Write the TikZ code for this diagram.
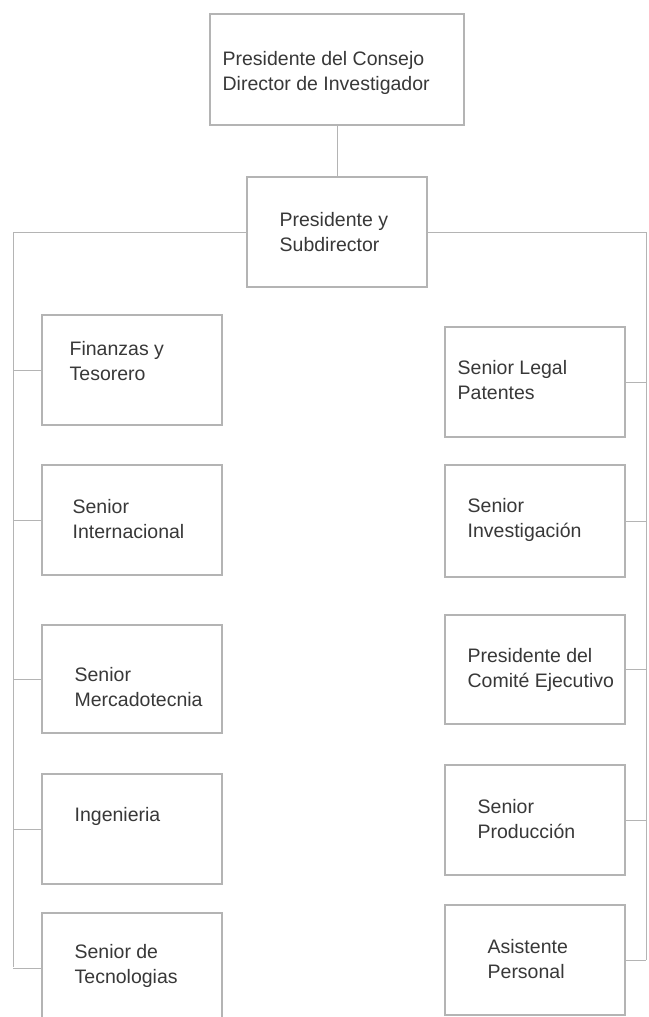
\documentclass[tikz,border=0pt]{standalone}
\usepackage{fontspec}
\setmainfont{Liberation Sans}
\usetikzlibrary{calc}
\definecolor{linegray}{HTML}{B4B4B4}
\definecolor{textgray}{HTML}{383838}
\begin{document}
\begin{tikzpicture}[x=1pt,y=-1pt,
  box/.style={draw=linegray, line width=1.1pt, rectangle, inner sep=0pt,
    minimum width=180pt, minimum height=110pt},
  txt/.style={anchor=west, align=left, inner sep=0pt, text=textgray,
    font=\fontsize{19.5}{25}\selectfont},
  conn/.style={draw=linegray, line width=1pt}]
\useasboundingbox[fill=white] (0,0) rectangle (648,1017);

% boxes
\node[box, minimum width=254pt, minimum height=111pt] (top) at (337,69.5) {};
\node[box] (pres) at (337,232) {};
\node[box] (fin) at (132,370) {};
\node[box] (int) at (132,520) {};
\node[box, minimum height=108pt] (mer) at (132,679) {};
\node[box] (ing) at (132,829) {};
\node[box] (tec) at (132,968) {};
\node[box] (leg) at (535,382) {};
\node[box, minimum height=112pt] (inv) at (535,521) {};
\node[box, minimum height=109pt] (com) at (535,669.5) {};
\node[box] (pro) at (535,820) {};
\node[box] (asi) at (535,960) {};

% texts
\node[txt] (top-t) at ($(top.west)+(13,3)$) {Presidente del Consejo\\Director de Investigador};
\node[txt] (pres-t) at ($(pres.west)+(33,0)$) {Presidente y\\Subdirector};
\node[txt] (fin-t) at ($(fin.west)+(28,-9)$) {Finanzas y\\Tesorero};
\node[txt] (int-t) at ($(int.west)+(31,-1)$) {Senior\\Internacional};
\node[txt] (mer-t) at ($(mer.west)+(33,8)$) {Senior\\Mercadotecnia};
\node[txt] (ing-t) at ($(ing.west)+(33,-13)$) {Ingenieria};
\node[txt] (tec-t) at ($(tec.west)+(33,-2)$) {Senior de\\Tecnologias};
\node[txt] (leg-t) at ($(leg.west)+(13,-2)$) {Senior Legal\\Patentes};
\node[txt] (inv-t) at ($(inv.west)+(23,-1)$) {Senior\\Investigación};
\node[txt] (com-t) at ($(com.west)+(23,0)$) {Presidente del\\Comité Ejecutivo};
\node[txt] (pro-t) at ($(pro.west)+(33,-1)$) {Senior\\Producción};
\node[txt] (asi-t) at ($(asi.west)+(43,-1)$) {Asistente\\Personal};

% spine coordinates
\coordinate (L) at (13,232);
\coordinate (Lb) at (13,967);
\coordinate (R) at (646,232);
\coordinate (Rb) at (646,960);

% connectors
\draw[conn] (top.south) -- (pres.north);
\draw[conn] (pres.west) -- (L) -- (Lb);
\draw[conn] (pres.east) -- (R) -- (Rb);
\foreach \b in {fin,int,mer,ing,tec}{
  \draw[conn] (\b.west) -- (\b.west -| L);
}
\foreach \b in {leg,inv,com,pro,asi}{
  \draw[conn] (\b.east) -- (\b.east -| R);
}
\end{tikzpicture}
\end{document}
